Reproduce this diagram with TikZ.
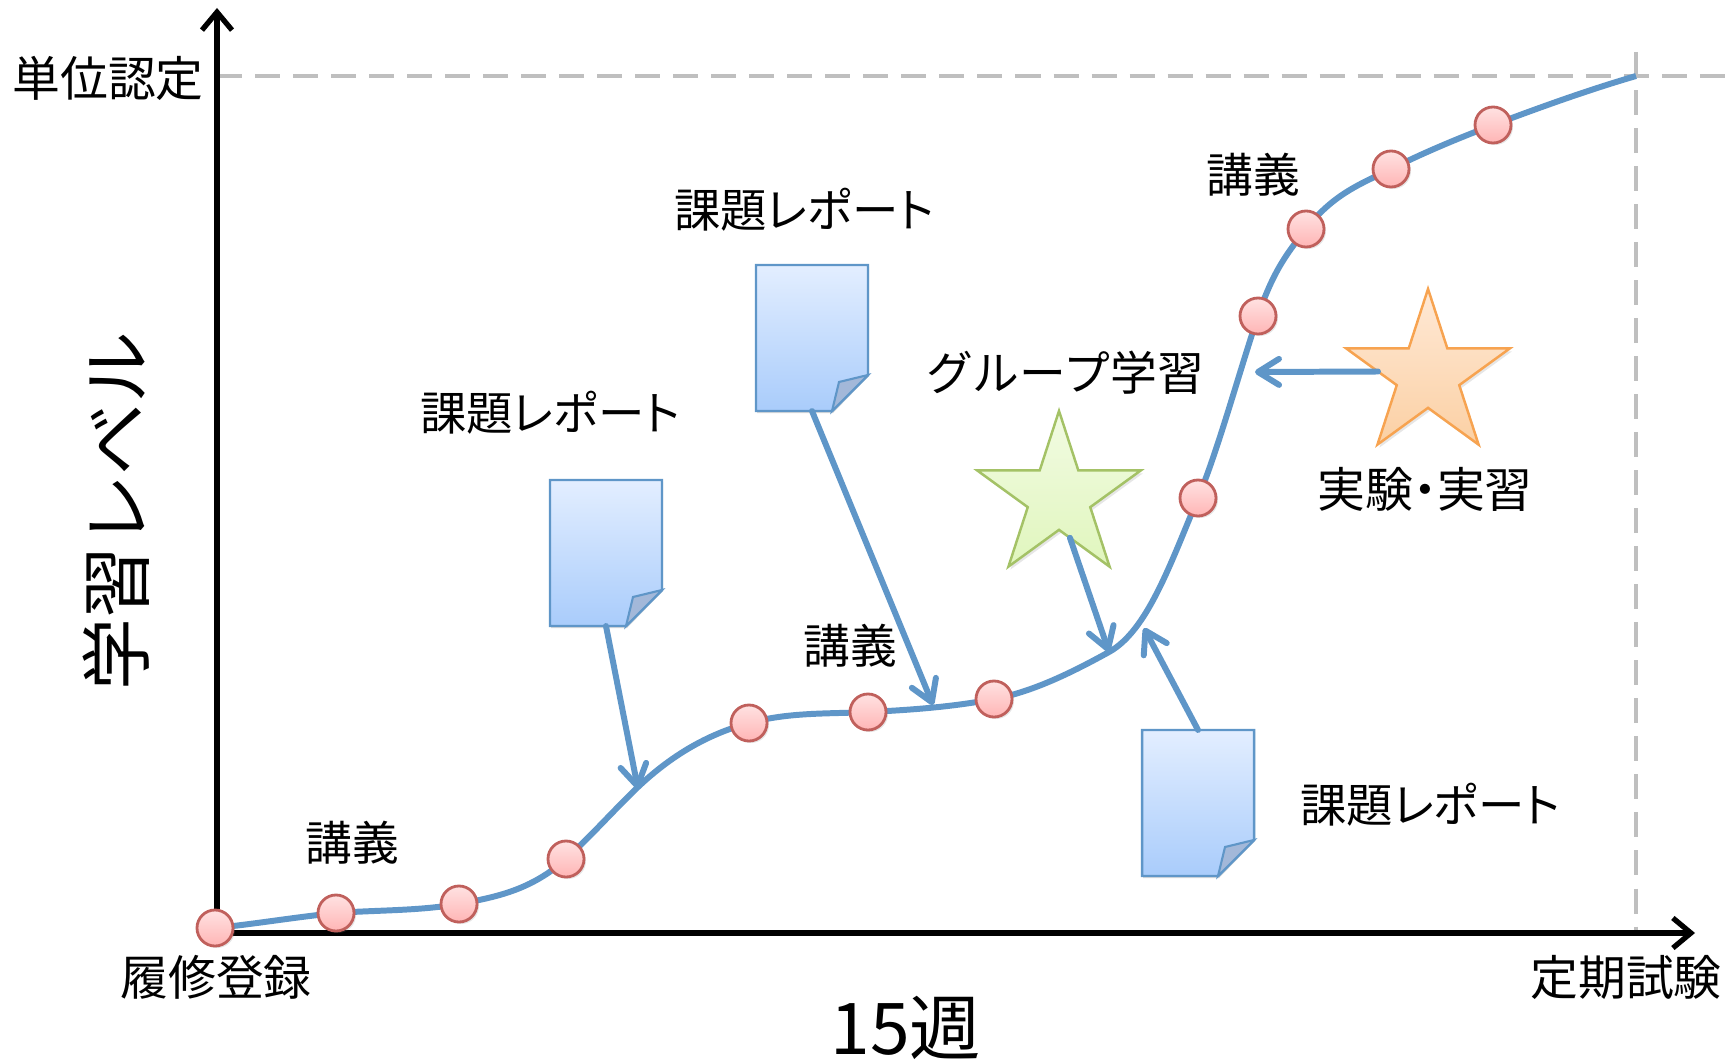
\documentclass[tikz,border=0pt]{standalone}
\usepackage{fontspec}
\setmainfont{Noto Sans CJK JP}
\usepackage{tikz}
\usetikzlibrary{shapes.geometric,arrows.meta,shadows}
\definecolor{lineblue}{HTML}{5F96C8}
\definecolor{dashgray}{HTML}{BFBFBF}
\definecolor{pagetop}{HTML}{E3EEFF}
\definecolor{pagebot}{HTML}{A9CCFB}
\definecolor{foldblue}{HTML}{A3B8D9}
\definecolor{dotedge}{HTML}{C0605C}
\definecolor{dottop}{HTML}{FFE2E2}
\definecolor{dotbot}{HTML}{FFB5B5}
\definecolor{greenedge}{HTML}{A4C266}
\definecolor{greentop}{HTML}{F2FBE3}
\definecolor{greenbot}{HTML}{E0F6BD}
\definecolor{orangeedge}{HTML}{F7A350}
\definecolor{orangetop}{HTML}{FFE9D6}
\definecolor{orangebot}{HTML}{FBD0A4}
\tikzset{
  label13/.style={font=\fontsize{13.3}{15}\selectfont,inner sep=0pt},
  label4/.style={font=\fontsize{13.6}{15}\selectfont,inner sep=0pt},
  labelrep/.style={font=\fontsize{13.2}{15}\selectfont\addfontfeatures{RawFeature=+palt},inner sep=0pt},
  axisline/.style={line width=1.5pt,-{Straight Barb[length=1.8mm,width=3mm]}},
  dashline/.style={dashgray,line width=1.4pt,dash pattern=on 0.25cm off 0.13cm},
  flow/.style={lineblue,line width=1.7pt,line cap=round,-{Straight Barb[length=2.1mm,width=2.6mm,round]}},
  dot/.style={circle,draw=dotedge,line width=0.8pt,minimum size=0.36cm,inner sep=0pt,top color=dottop,bottom color=dotbot,drop shadow={opacity=0.2,shadow xshift=0.2mm,shadow yshift=-0.2mm}},
  starshape/.style={star,star points=5,star point ratio=2.62,minimum size=1.72cm,inner sep=0pt,outer sep=0pt,line width=0.7pt,drop shadow={opacity=0.2,shadow xshift=0.2mm,shadow yshift=-0.3mm}},
  docpage/.pic={
    \fill[black,opacity=0.15] (-55,-71) -- (57,-71) -- (57,38) -- (21,75) -- (-55,75) -- cycle;
    \draw[draw=lineblue,line width=0.7pt,top color=pagetop,bottom color=pagebot]
      (-56,-73) -- (56,-73) -- (56,37) -- (20,73) -- (-56,73) -- cycle;
    \draw[draw=lineblue,line width=0.6pt,fill=foldblue] (20,73) -- (27,44) -- (56,37) -- cycle;
    \node (-page) [minimum width=1.12cm,minimum height=1.46cm,inner sep=0pt,outer sep=0pt] at (0,0) {};
  }
}
\begin{document}
\begin{tikzpicture}[x=0.01cm,y=-0.01cm]
\useasboundingbox (0,0) rectangle (1731,1061);
\coordinate (o) at (217,933);
\coordinate (xend) at (1695,933);
\coordinate (yend) at (217,8);
\coordinate (dl) at (217,76);
\coordinate (dr) at (1731,76);
\coordinate (dt) at (1636,52);
\coordinate (db) at (1636,933);
\draw[dashline] (dl) -- (dr);
\draw[dashline] (dt) -- (db);
\draw[axisline] (o) -- (xend);
\draw[axisline] (o) -- (yend);
\draw[lineblue,line width=1.7pt] (215,928) .. controls (255,924) and (296,917) .. (336,913)
  .. controls (377,910) and (418,911) .. (459,904)
  .. controls (495,897) and (530,891) .. (566,859)
  .. controls (590,837) and (614,810) .. (638,787)
  .. controls (675,752) and (712,733) .. (749,723)
  .. controls (789,712) and (828,714) .. (868,712)
  .. controls (910,710) and (952,707) .. (994,699)
  .. controls (1032,692) and (1071,673) .. (1109,652)
  .. controls (1147,631) and (1170,565) .. (1198,498)
  .. controls (1218,450) and (1238,376) .. (1258,316)
  .. controls (1274,268) and (1290,250) .. (1306,229)
  .. controls (1334,193) and (1363,183) .. (1391,169)
  .. controls (1425,152) and (1459,138) .. (1493,125)
  .. controls (1541,107) and (1588,90) .. (1636,76);
\foreach \name/\x/\y in {c1/215/928,c2/336/913,c3/459/904,c4/566/859,c5/749/723,c6/868/712,c7/994/699,c8/1198/498,c9/1258/316,c10/1306/229,c11/1391/169,c12/1493/125}
  \node[dot] (\name) at (\x,\y) {};
\pic (d1) at (606,553) {docpage};
\pic (d2) at (812,338) {docpage};
\pic (d3) at (1198,803) {docpage};
\node[starshape,draw=greenedge,top color=greentop,bottom color=greenbot] (sgreen) at (1059,497) {};
\node[starshape,draw=orangeedge,top color=orangetop,bottom color=orangebot] (sorange) at (1428,375) {};
\coordinate (a1) at (638,789);
\coordinate (a2) at (933,705);
\coordinate (a3) at (1109,652);
\coordinate (a4) at (1144,628);
\coordinate (a5) at (1255,372);
\draw[flow] (d1-page.south) -- (a1);
\draw[flow] (d2-page.south) -- (a2);
\draw[flow] (sgreen.-75) -- (a3);
\draw[flow] (d3-page.north) -- (a4);
\draw[flow] (sorange.176) -- (a5);
\node[label4] (t1) at (108,78) {単位認定};
\node[label4] (t2) at (216,977) {履修登録};
\node[label4] (t3) at (1626,977) {定期試験};
\node[font=\fontsize{20.3}{24}\selectfont,inner sep=0pt] (t4) at (906,1028) {15週};
\node[font=\fontsize{20.4}{24}\selectfont,inner sep=0pt,rotate=90] (t5) at (116,511) {学習レベル};
\node[labelrep] (t6) at (550,413) {課題レポート};
\node[labelrep] (t7) at (804,210) {課題レポート};
\node[labelrep] (t8) at (1430,805) {課題レポート};
\node[label13] (t9) at (352,843) {講義};
\node[label13] (t10) at (850,646) {講義};
\node[label13] (t11) at (1253,175) {講義};
\node[label13] (t12) at (1065,373) {グループ学習};
\node[label4] (t13) at (1425,489) {実験\hspace{-0.25em}・\hspace{-0.25em}実習};
\end{tikzpicture}
\end{document}
